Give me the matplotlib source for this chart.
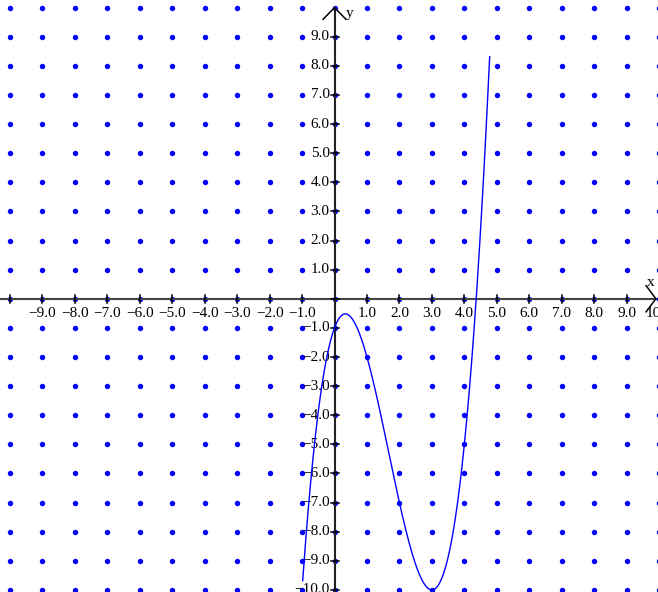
import numpy as np
import matplotlib
matplotlib.use("Agg")
from matplotlib import pyplot as plt

# cubic y = x^3 - 5x^2 + 3x - 1, drawn over the visible piece
coeffs = [1.0, -5.0, 3.0, -1.0]
x_domain = [-0.98, 4.78]

x_ticks = [-9, -8, -7, -6, -5, -4, -3, -2, -1, 1, 2, 3, 4, 5, 6, 7, 8, 9, 10]
y_ticks = [-10, -9, -8, -7, -6, -5, -4, -3, -2, -1, 1, 2, 3, 4, 5, 6, 7, 8, 9]
grid_x = np.arange(-10, 11)
grid_y = np.arange(-10, 11)

plt.rcParams["font.family"] = ["Liberation Serif", "DejaVu Serif"]

fig = plt.figure(figsize=(6.58, 5.92), dpi=100)
ax = fig.add_axes([0, 0, 1, 1])
ax.set_xlim(-10.305, 9.966)
ax.set_ylim(-10.07, 10.26)
ax.axis("off")

# dot grid
gx, gy = np.meshgrid(grid_x, grid_y)
ax.plot(gx.ravel(), gy.ravel(), "o", color="#0000ff", markersize=3.9,
        markeredgewidth=0, zorder=1)

ax.plot([-10.305, 9.9], [0, 0], color="#444444", lw=1.5, zorder=2)
ax.plot([0, 0], [-10.07, 10.0], color="#222222", lw=1.5, zorder=2)

# open arrow heads
ax.plot([9.6, 9.9, 9.6], [0.45, 0, -0.45], color="black", lw=1.1, zorder=3)
ax.plot([-0.35, 0, 0.35], [9.6, 10.0, 9.6], color="black", lw=1.1, zorder=3)
ax.text(9.75, 0.35, "x", fontsize=11, ha="center", va="bottom")
ax.text(0.35, 9.8, "y", fontsize=11, ha="left", va="center")

# tick marks
tx = 4 / 32.46
ty = 4 / 29.13
for t in list(x_ticks) + [-10]:
    ax.plot([t, t], [-ty, ty], color="black", lw=1.1, zorder=3)
for t in y_ticks:
    ax.plot([-tx, tx], [t, t], color="black", lw=1.1, zorder=3)
ax.plot([-tx, tx], [0, 0], color="black", lw=1.1, zorder=3)

for t in x_ticks:
    lab = f"{t:.1f}".replace("-", "\u2212")
    ax.text(t, -0.28, lab, fontsize=11, ha="center", va="top", zorder=4)
for t in y_ticks:
    lab = f"{t:.1f}".replace("-", "\u2212")
    ax.text(-0.15, t, lab, fontsize=11, ha="right", va="center", zorder=4)

xs = np.linspace(x_domain[0], x_domain[1], 600)
ys = np.polyval(coeffs, xs)
ax.plot(xs, ys, color="#0000ff", lw=1.0, zorder=5)

fig.savefig("out.png", dpi=100)
